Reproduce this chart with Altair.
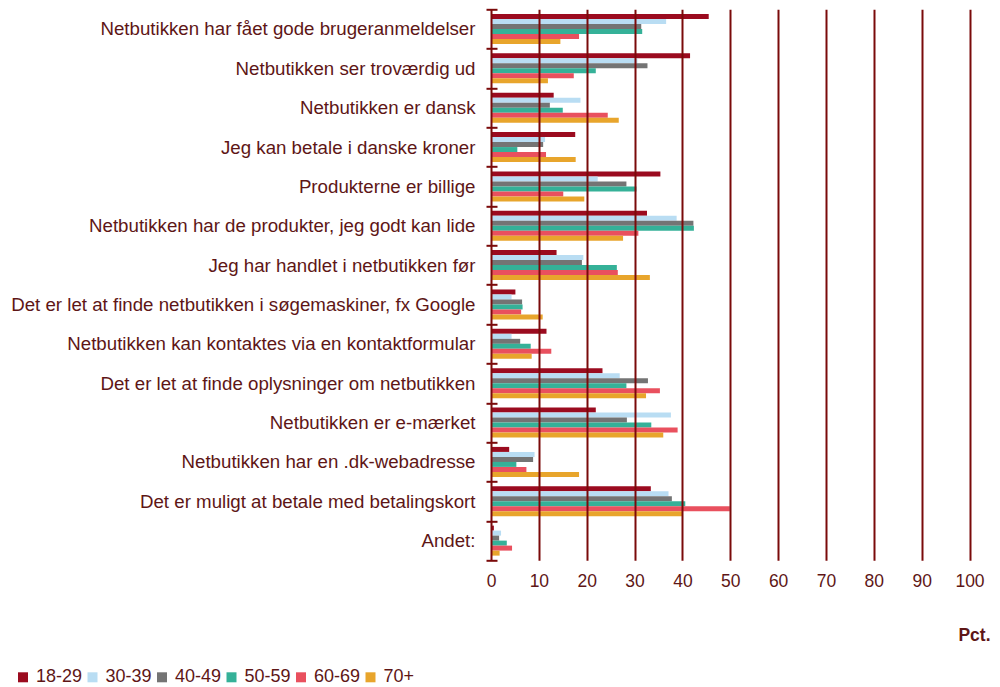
import altair as alt
import pandas as pd

categories = [
    "Netbutikken har fået gode brugeranmeldelser",
    "Netbutikken ser troværdig ud",
    "Netbutikken er dansk",
    "Jeg kan betale i danske kroner",
    "Produkterne er billige",
    "Netbutikken har de produkter, jeg godt kan lide",
    "Jeg har handlet i netbutikken før",
    "Det er let at finde netbutikken i søgemaskiner, fx Google",
    "Netbutikken kan kontaktes via en kontaktformular",
    "Det er let at finde oplysninger om netbutikken",
    "Netbutikken er e-mærket",
    "Netbutikken har en .dk-webadresse",
    "Det er muligt at betale med betalingskort",
    "Andet:",
]
groups = ["18-29", "30-39", "40-49", "50-59", "60-69", "70+"]
colors = ["#9b0b1f", "#b9ddf3", "#747474", "#35b198", "#e9505e", "#e8a52c"]

v_18_29 = [45.5, 41.6, 13.1, 17.6, 35.4, 32.6, 13.7, 5.1, 11.6, 23.3, 21.9, 3.8, 33.4, 0.6]
v_30_39 = [36.6, 30.6, 18.7, 11.3, 22.3, 38.8, 19.3, 4.3, 4.3, 26.9, 37.6, 9.1, 37.1, 2.1]
v_40_49 = [31.4, 32.7, 12.3, 10.9, 28.3, 42.3, 19.0, 6.5, 6.1, 32.8, 28.4, 8.8, 37.8, 1.7]
v_50_59 = [31.6, 21.9, 15.0, 5.5, 30.4, 42.4, 26.3, 6.6, 8.3, 28.3, 33.5, 5.3, 40.6, 3.3]
v_60_69 = [18.4, 17.3, 24.4, 11.5, 15.1, 30.8, 26.5, 6.3, 12.6, 35.3, 39.0, 7.4, 49.9, 4.4]
v_70 = [14.5, 11.9, 26.7, 17.7, 19.5, 27.6, 33.2, 10.8, 8.5, 32.4, 36.0, 18.4, 40.1, 1.8]

x_ticks = [0, 10, 20, 30, 40, 50, 60, 70, 80, 90, 100]

series = [v_18_29, v_30_39, v_40_49, v_50_59, v_60_69, v_70]
rows = []
for g, vals in zip(groups, series):
    for c, v in zip(categories, vals):
        rows.append({"kategori": c, "alder": g, "pct": v})
df = pd.DataFrame(rows)

TEXT = "#5e1616"
GRID = "#7a0a0a"
FONT = "Liberation Sans"

W = 478.5
H = 551

chart = (
    alt.Chart(df)
    .mark_bar(height={"band": 1})
    .encode(
        x=alt.X(
            "pct:Q",
            scale=alt.Scale(domain=[0, 100], nice=False),
            axis=alt.Axis(
                values=x_ticks,
                title="Pct.",
                grid=True,
                gridColor=GRID,
                gridWidth=2,
                gridOpacity=1,
                domain=False,
                ticks=False,
                labelFontSize=17.5,
                labelColor=TEXT,
                labelFont=FONT,
                labelPadding=12,
                labelFlush=False,
                titleFontSize=17.5,
                titleFontWeight="bold",
                titleColor=TEXT,
                titleFont=FONT,
                titleAlign="right",
                titleBaseline="alphabetic",
                titleX=499,
                titleY=80,
                zindex=1,
            ),
        ),
        y=alt.Y(
            "kategori:N",
            sort=categories,
            scale=alt.Scale(paddingInner=0, paddingOuter=0),
            axis=alt.Axis(
                title=None,
                domain=False,
                ticks=True,
                tickBand="extent",
                tickSize=11,
                tickWidth=2,
                tickColor=GRID,
                offset=-6,
                labelFontSize=18.7,
                labelColor=TEXT,
                labelFont=FONT,
                labelPadding=11,
                labelLimit=480,
                zindex=1,
            ),
        ),
        yOffset=alt.YOffset(
            "alder:N", sort=groups, scale=alt.Scale(paddingInner=0, paddingOuter=0.936)
        ),
        color=alt.Color(
            "alder:N",
            sort=groups,
            scale=alt.Scale(domain=groups, range=colors),
            legend=alt.Legend(
                title=None,
                orient="none",
                direction="horizontal",
                legendX=-477,
                legendY=659,
                padding=0,
                symbolType="square",
                symbolSize=100,
                symbolStrokeWidth=0,
                symbolOpacity=1,
                labelFontSize=18,
                labelColor=TEXT,
                labelFont=FONT,
                labelOffset=4,
                columnPadding=0.5,
            ),
        ),
    )
    .properties(
        width=W,
        height=H,
        autosize=alt.AutoSizeParams(type="none"),
        padding={"left": 483, "top": 1.3, "right": 22.5, "bottom": 126},
    )
    .configure_view(stroke=None)
)

chart.save("out.html", embed_options={"renderer": "svg", "actions": False})
